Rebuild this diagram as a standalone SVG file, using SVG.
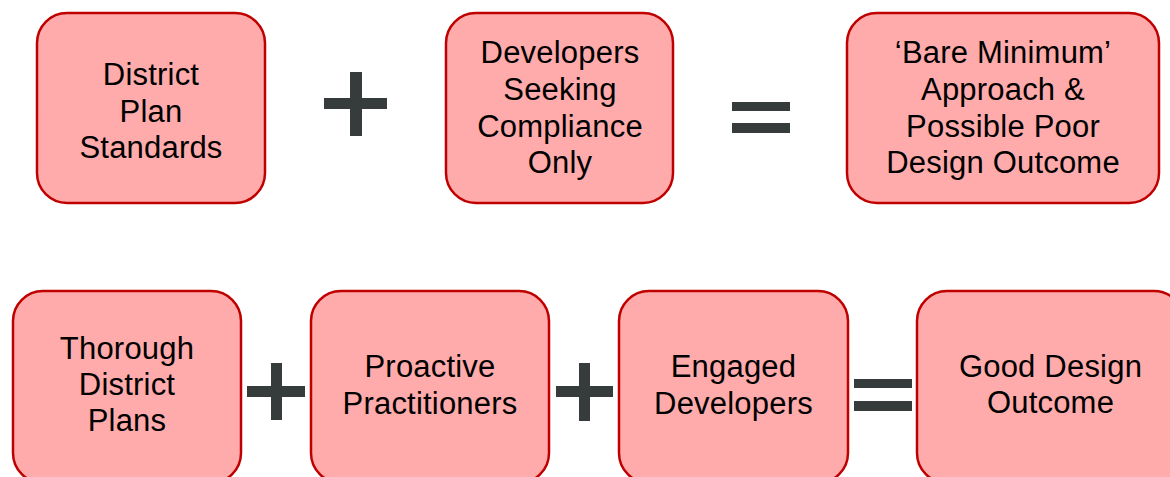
<svg xmlns="http://www.w3.org/2000/svg" width="1170" height="477" viewBox="0 0 1170 477">
<style>
.box{fill:#ffabab;stroke:#c00000;stroke-width:2.5}
.t{font-family:"Liberation Sans",Arial,sans-serif;font-size:31px;letter-spacing:0.2px;fill:#000;text-anchor:middle}
.op{fill:#363b3b}
</style>
<rect width="1170" height="477" fill="#fff"/>
<g id="n1"><rect class="box" x="37" y="13" width="228" height="190" rx="30"/>
<text class="t"><tspan x="151" y="85">District</tspan><tspan x="151" y="122">Plan</tspan><tspan x="151" y="158">Standards</tspan></text></g>
<g id="n2"><rect class="box" x="446" y="13" width="227" height="190" rx="30"/>
<text class="t"><tspan x="560" y="63">Developers</tspan><tspan x="560" y="100">Seeking</tspan><tspan x="560" y="137">Compliance</tspan><tspan x="560" y="173">Only</tspan></text></g>
<g id="n3"><rect class="box" x="847" y="13" width="312" height="190" rx="30"/>
<text class="t"><tspan x="1003" y="63">‘Bare Minimum’</tspan><tspan x="1003" y="100">Approach &amp;</tspan><tspan x="1003" y="137">Possible Poor</tspan><tspan x="1003" y="173">Design Outcome</tspan></text></g>
<g id="n4"><rect class="box" x="13" y="291" width="228" height="192" rx="30"/>
<text class="t"><tspan x="127" y="359">Thorough</tspan><tspan x="127" y="395">District</tspan><tspan x="127" y="431">Plans</tspan></text></g>
<g id="n5"><rect class="box" x="311" y="291" width="238" height="192" rx="30"/>
<text class="t"><tspan x="430" y="377">Proactive</tspan><tspan x="430" y="414">Practitioners</tspan></text></g>
<g id="n6"><rect class="box" x="619" y="291" width="229" height="192" rx="30"/>
<text class="t"><tspan x="733.5" y="377">Engaged</tspan><tspan x="733.5" y="414">Developers</tspan></text></g>
<g id="n7"><rect class="box" x="917" y="291" width="267" height="192" rx="30"/>
<text class="t"><tspan x="1050.5" y="377">Good Design</tspan><tspan x="1050.5" y="413">Outcome</tspan></text></g>
<g id="operators">
<rect class="op" x="324" y="98" width="63" height="11"/><rect class="op" x="350" y="72" width="12" height="64"/>
<rect class="op" x="732" y="102" width="58" height="9"/><rect class="op" x="732" y="123" width="58" height="10"/>
<rect class="op" x="247" y="386" width="58" height="11"/><rect class="op" x="271" y="363" width="11" height="57"/>
<rect class="op" x="556" y="386" width="57" height="11"/><rect class="op" x="579" y="363" width="11" height="58"/>
<rect class="op" x="854" y="379" width="58" height="9"/><rect class="op" x="854" y="401" width="58" height="10"/>
</g>
</svg>
